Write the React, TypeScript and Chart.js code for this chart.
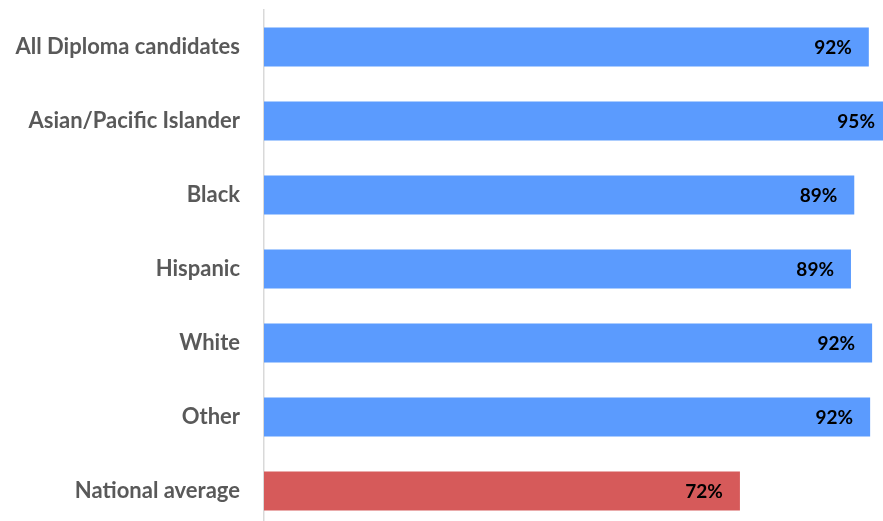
import React, { useEffect, useRef } from "react";
import { Chart, registerables } from "chart.js";

Chart.register(...registerables);

const categories = [
  "All Diploma candidates",
  "Asian/Pacific Islander",
  "Black",
  "Hispanic",
  "White",
  "Other",
  "National average",
];
const values = [91.5, 95, 89.3, 88.8, 92.0, 91.7, 72.0];
const valueLabels = ["92%", "95%", "89%", "89%", "92%", "92%", "72%"];
const barColors = ["#5B9BFE", "#5B9BFE", "#5B9BFE", "#5B9BFE", "#5B9BFE", "#5B9BFE", "#D65A5A"];

const valueLabelPlugin = {
  id: "valueLabels",
  afterDatasetsDraw(chart: any) {
    const ctx = chart.ctx;
    const meta = chart.getDatasetMeta(0);
    ctx.save();
    ctx.font = "bold 19px Lato";
    ctx.fillStyle = "#000000";
    ctx.textAlign = "right";
    ctx.textBaseline = "middle";
    meta.data.forEach((el: any, i: number) => {
      ctx.fillText(valueLabels[i], el.x - 17, el.y + 1);
    });
    ctx.restore();
  },
};

export default function App() {
  const ref = useRef<HTMLCanvasElement>(null);
  useEffect(() => {
    if (!ref.current) return;
    const chart = new Chart(ref.current, {
      type: "bar",
      data: {
        labels: categories,
        datasets: [
          {
            data: values,
            backgroundColor: barColors,
            barPercentage: 39 / 74,
            categoryPercentage: 1,
          },
        ],
      },
      plugins: [valueLabelPlugin],
      options: {
        indexAxis: "y",
        animation: false,
        responsive: false,
        maintainAspectRatio: false,
        layout: { padding: { top: 10, bottom: 0, left: 0, right: 0 } },
        plugins: { legend: { display: false }, tooltip: { enabled: false } },
        scales: {
          x: { display: false, min: 0, max: 100 },
          y: {
            grid: { display: false, drawTicks: false },
            border: { display: true, color: "#D9D9D9", width: 1.5 },
            ticks: {
              padding: 24,
              color: "#595959",
              font: { family: "Lato", weight: "bold", size: 22 },
            },
            afterFit(scale: any) {
              scale.width = 264;
              scale.paddingTop = 0;
              scale.paddingBottom = 0;
            },
          },
        },
      },
    });
    return () => chart.destroy();
  }, []);
  return (
    <div style={{ position: "fixed", left: 0, top: 0, width: 883, height: 521, overflow: "hidden", background: "#fff" }}>
      <canvas ref={ref} width={925} height={528} style={{ width: 925, height: 528, display: "block" }} />
    </div>
  );
}
